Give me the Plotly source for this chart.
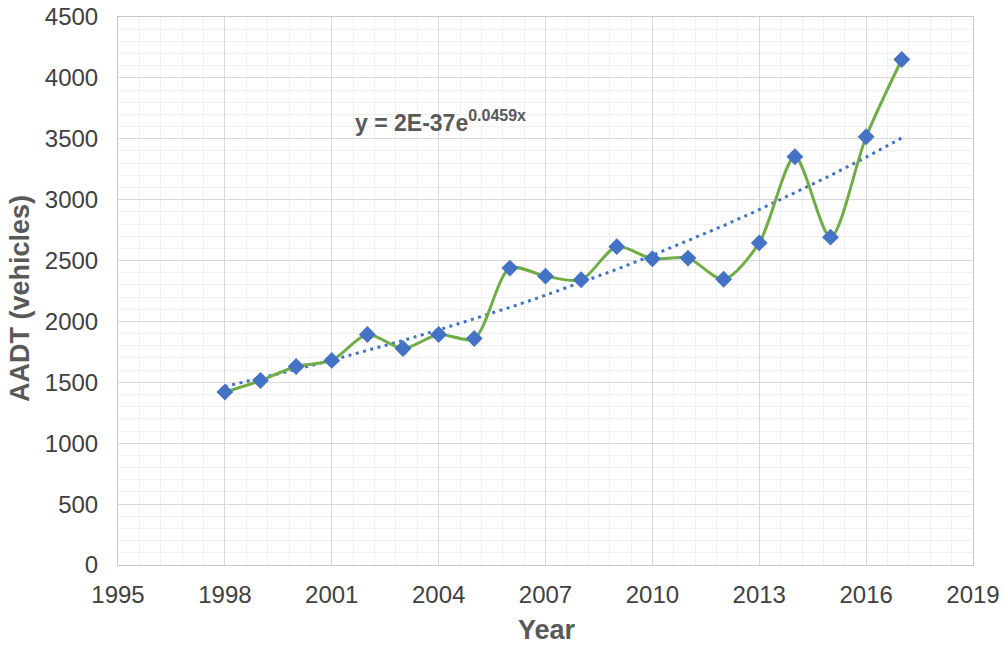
import numpy as np
import plotly.graph_objects as go

years = [1998, 1999, 2000, 2001, 2002, 2003, 2004, 2005, 2006, 2007,
         2008, 2009, 2010, 2011, 2012, 2013, 2014, 2015, 2016, 2017]
aadt = [1420, 1515, 1630, 1680, 1893, 1778, 1893, 1860, 2438, 2372,
        2342, 2614, 2515, 2520, 2346, 2645, 3352, 2692, 3517, 4151]
equation_base = "y = 2E-37e"
equation_exp = "0.0459x"
x_title = "Year"
y_title = "AADT (vehicles)"

x = np.array(years, dtype=float)
yv = np.array(aadt, dtype=float)
b, lna = np.polyfit(x, np.log(yv), 1)
trend = np.exp(lna + b * x)

font = "Liberation Sans, Arial, sans-serif"

fig = go.Figure()
fig.add_trace(go.Scatter(
    x=years, y=trend, mode="lines",
    line=dict(color="#4472C4", width=3, dash="3px,4.5px"),
    showlegend=False, hoverinfo="skip"))
fig.add_trace(go.Scatter(
    x=years, y=aadt, mode="lines+markers",
    line=dict(color="#70AD47", width=3, shape="spline", smoothing=0.8),
    marker=dict(symbol="diamond", size=13, color="#4472C4"),
    showlegend=False))

fig.add_annotation(
    x=2001.6, y=3640, xref="x", yref="y", xanchor="left", yanchor="middle",
    text="<b>" + equation_base + "<sup><span style='font-size:16px'>" + equation_exp + "</span></sup></b>",
    showarrow=False,
    font=dict(family=font, size=23, color="#595959"))

# axis titles
fig.add_annotation(
    x=(20 - 118) / 855, y=(565 - 299) / 548, xref="paper", yref="paper",
    xanchor="center", yanchor="middle", textangle=-90,
    text="<b>" + y_title + "</b>", showarrow=False,
    font=dict(family=font, size=27, color="#595959"))
fig.add_annotation(
    x=(547 - 118) / 855, y=(565 - 630) / 548, xref="paper", yref="paper",
    xanchor="center", yanchor="middle",
    text="<b>" + x_title + "</b>", showarrow=False,
    font=dict(family=font, size=27, color="#595959"))

fig.update_layout(
    width=1004, height=646,
    margin=dict(l=118, r=31, t=17, b=81),
    plot_bgcolor="white", paper_bgcolor="white",
    font=dict(family=font, color="#404040"),
    xaxis=dict(
        range=[1995, 2019], tick0=1995, dtick=3, tickmode="linear",
        showgrid=True, gridcolor="#d9d9d9", gridwidth=1,
        minor=dict(dtick=0.6, tick0=1995, showgrid=True, gridcolor="#f0f0f0", gridwidth=1),
        showline=True, linecolor="#c8c8c8", linewidth=1, mirror=True,
        zeroline=False, ticks="", tickfont=dict(size=24, color="#404040"),
        ticklabelstandoff=8, automargin=False, ticklabeloverflow="allow",
    ),
    yaxis=dict(
        range=[0, 4500], dtick=500, tick0=0, tickmode="linear",
        showgrid=True, gridcolor="#d9d9d9", gridwidth=1,
        minor=dict(dtick=100, showgrid=True, gridcolor="#f0f0f0", gridwidth=1),
        showline=True, linecolor="#c8c8c8", linewidth=1, mirror=True,
        zeroline=False, ticks="", tickfont=dict(size=24, color="#404040"),
        ticklabelstandoff=14, automargin=False, ticklabeloverflow="allow",
    ),
)
fig.write_html(
    "out.html",
    config={"displayModeBar": False},
    post_script="document.body.style.margin='0';document.body.style.overflow='hidden';",
)
